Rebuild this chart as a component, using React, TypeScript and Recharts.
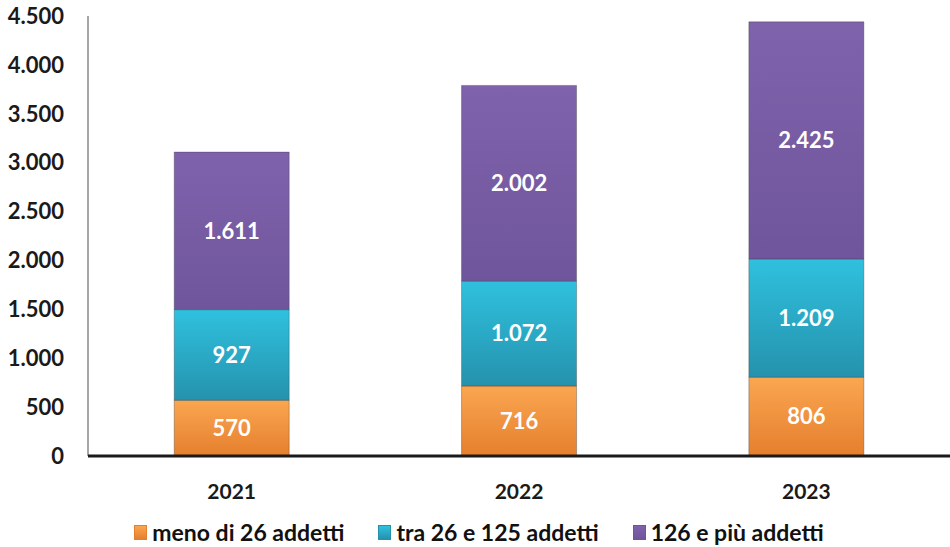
import React from 'react';
import { BarChart, Bar, XAxis, YAxis, LabelList, Legend } from 'recharts';

const years = ['2021', '2022', '2023'];
const small = [570, 716, 806];
const medium = [927, 1072, 1209];
const large = [1611, 2002, 2425];
const yTicks = [0, 500, 1000, 1500, 2000, 2500, 3000, 3500, 4000, 4500];

const data = years.map((year, i) => ({
  year,
  small: small[i],
  medium: medium[i],
  large: large[i],
}));

const series = [
  { key: 'small', name: 'meno di 26 addetti', top: '#FAA650', bottom: '#E57F2E' },
  { key: 'medium', name: 'tra 26 e 125 addetti', top: '#2FC1DE', bottom: '#2592AD' },
  { key: 'large', name: '126 e più addetti', top: '#7F62AC', bottom: '#6F569C' },
];

const font = 'Lato, "Open Sans", sans-serif';

// thousands separator with a dot, as in Italian
const fmt = (v: number) => String(v).replace(/\B(?=(\d{3})+(?!\d))/g, '.');

const LegendContent = () => (
  <div style={{ display: 'flex', justifyContent: 'center', gap: 34, fontFamily: font, fontWeight: 700, fontSize: 23, color: '#111', paddingLeft: 8, paddingTop: 6 }}>
    {series.map((s) => (
      <div key={s.key} style={{ display: 'flex', alignItems: 'center' }}>
        <span
          style={{
            display: 'inline-block',
            width: 11,
            height: 13,
            marginRight: 5,
            background: `linear-gradient(${s.top}, ${s.bottom})`,
            border: '1px solid ' + s.bottom,
          }}
        />
        {s.name}
      </div>
    ))}
  </div>
);

export default function App() {
  return (
    <div style={{ width: 950, height: 547, background: '#fff' }}>
      <style>{`body{margin:0}`}</style>
      <BarChart
        width={950}
        height={547}
        data={data}
        margin={{ top: 16, right: 0, bottom: 0, left: 0 }}
        barCategoryGap="30%"
      >
        <defs>
          {series.map((s) => (
            <linearGradient key={s.key} id={'g-' + s.key} x1="0" y1="0" x2="0" y2="1">
              <stop offset="0%" stopColor={s.top} />
              <stop offset="100%" stopColor={s.bottom} />
            </linearGradient>
          ))}
        </defs>
        <YAxis
          width={88}
          domain={[0, 4500]}
          ticks={yTicks}
          interval={0}
          tickFormatter={fmt}
          tickLine={false}
          axisLine={{ stroke: '#A6A6A6', strokeWidth: 2 }}
          tick={{ fill: '#1a1a1a', fontSize: 22, fontWeight: 700, fontFamily: font, dx: -16 }}
        />
        <XAxis
          dataKey="year"
          height={56}
          tickLine={false}
          axisLine={{ stroke: '#1a1a1a', strokeWidth: 3 }}
          tick={{ fill: '#1a1a1a', fontSize: 21, fontWeight: 700, fontFamily: font, dy: 20 }}
        />
        <Legend verticalAlign="bottom" height={35} content={<LegendContent />} />
        {series.map((s) => (
          <Bar
            key={s.key}
            dataKey={s.key}
            name={s.name}
            stackId="a"
            fill={`url(#g-${s.key})`}
            stroke="#3a3a3a"
            strokeOpacity={0.35}
            strokeWidth={1}
            isAnimationActive={false}
          >
            <LabelList
              dataKey={s.key}
              position="center"
              formatter={(v: any) => fmt(Number(v))}
              fill="#fff"
              style={{ fontSize: 22, fontWeight: 700, fontFamily: font }}
            />
          </Bar>
        ))}
      </BarChart>
    </div>
  );
}
